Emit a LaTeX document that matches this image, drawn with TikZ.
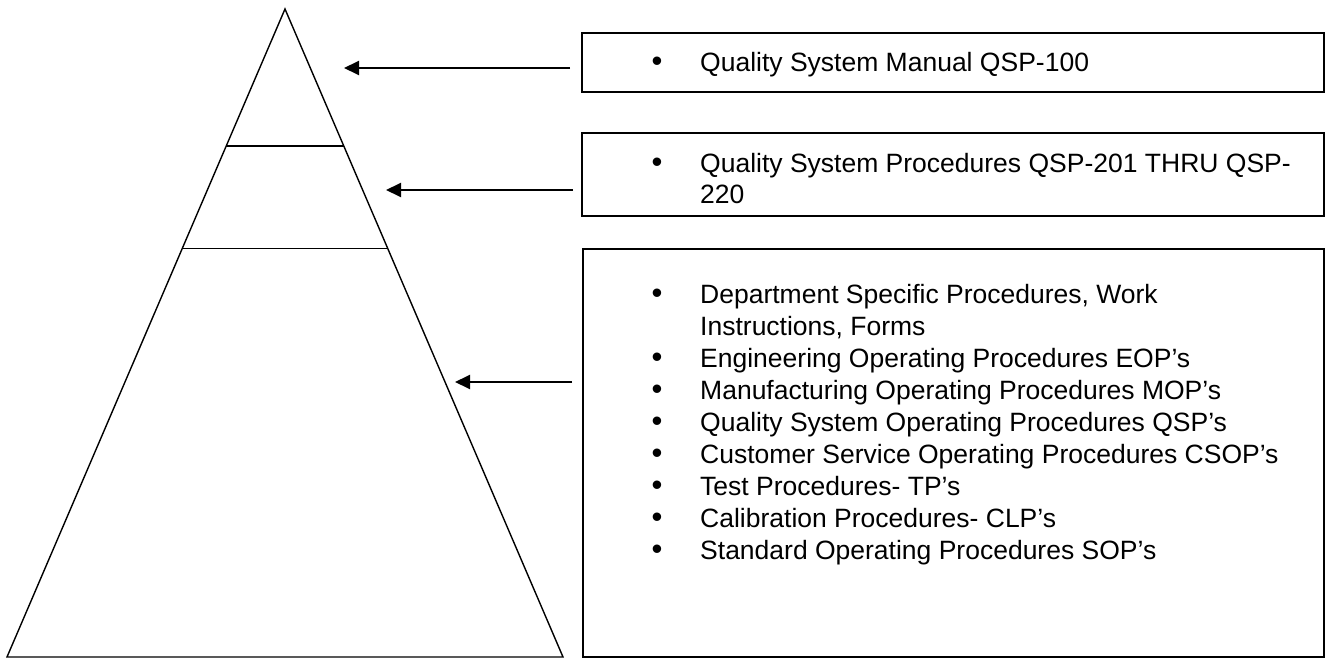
\documentclass[tikz,border=0pt]{standalone}
\usepackage{fontspec}
\setmainfont{Liberation Sans}
\usetikzlibrary{arrows.meta}
\begin{document}
\begin{tikzpicture}[x=1pt,y=-1pt,
  edge/.style={line width=1.4pt, line join=miter},
  box/.style={draw, line width=1.9pt, rectangle, inner sep=0pt},
  pointer/.style={line width=1.9pt, -{Triangle[length=15pt,width=14pt]}},
  txt/.style={anchor=base west, inner sep=0pt, font=\fontsize{26.5}{32}\selectfont},
  bul/.style={anchor=center, inner sep=0pt, font=\fontsize{31}{31}\selectfont}]
\useasboundingbox (0,0) rectangle (1328,658);
% pyramid
\coordinate (apex) at (285,9);
\coordinate (bl) at (7,657);
\coordinate (br) at (563,657);
\coordinate (l1a) at (226.1,146);
\coordinate (l1b) at (343.9,146);
\coordinate (l2a) at (182.1,248.5);
\coordinate (l2b) at (387.9,248.5);
\draw[edge] (bl) -- (apex) -- (br) -- cycle;
\draw[edge] (l1a) -- (l1b);
\draw[edge] (l2a) -- (l2b);
% boxes
\node[box, minimum width=742pt, minimum height=59pt] (b1) at (953,62.5) {};
\node[box, minimum width=742pt, minimum height=83pt] (b2) at (953,174.5) {};
\node[box, minimum width=741pt, minimum height=408pt] (b3) at (953.5,453) {};
% arrows
\coordinate (a1s) at (570,68);  \coordinate (a1e) at (344,68);
\coordinate (a2s) at (573,190); \coordinate (a2e) at (386,190);
\coordinate (a3s) at (572,382); \coordinate (a3e) at (455,382);
\draw[pointer] (a1s) -- (a1e);
\draw[pointer] (a2s) -- (a2e);
\draw[pointer] (a3s) -- (a3e);
% box 1 text
\node[bul] (p1) at (657,64.7) {•};
\node[txt] (t1) at (700,71.7) {Quality System Manual QSP-100};
% box 2 text
\node[bul] (p2) at (657,165) {•};
\node[txt] (t2a) at (700,172) {Quality System Procedures QSP-201 THRU QSP-};
\node[txt] (t2b) at (700,203) {220};
% box 3 text
\node[bul] (p3a) at (657,296) {•};
\node[txt] (t3a) at (700,303) {Department Specific Procedures, Work};
\node[txt] (t3b) at (700,335) {Instructions, Forms};
\node[bul] (p3c) at (657,360) {•};
\node[txt] (t3c) at (700,367) {Engineering Operating Procedures EOP’s};
\node[bul] (p3d) at (657,392) {•};
\node[txt] (t3d) at (700,399) {Manufacturing Operating Procedures MOP’s};
\node[bul] (p3e) at (657,424) {•};
\node[txt] (t3e) at (700,431) {Quality System Operating Procedures QSP’s};
\node[bul] (p3f) at (657,456) {•};
\node[txt] (t3f) at (700,463) {Customer Service Operating Procedures CSOP’s};
\node[bul] (p3g) at (657,488) {•};
\node[txt] (t3g) at (700,495) {Test Procedures- TP’s};
\node[bul] (p3h) at (657,520) {•};
\node[txt] (t3h) at (700,527) {Calibration Procedures- CLP’s};
\node[bul] (p3i) at (657,552) {•};
\node[txt] (t3i) at (700,559) {Standard Operating Procedures SOP’s};
\end{tikzpicture}
\end{document}
